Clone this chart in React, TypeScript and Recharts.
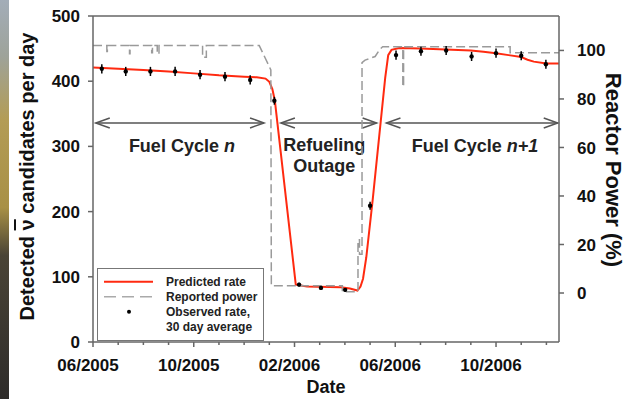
import React from "react";
import {
  ComposedChart,
  Line,
  Scatter,
  ErrorBar,
  XAxis,
  YAxis,
  ReferenceLine,
  Legend,
} from "recharts";

// months since 06/2005
const monthTicks = [0, 1, 2, 3, 4, 5, 6, 7, 8, 9, 10, 11, 12, 13, 14, 15, 16, 17, 18];
const majorTicks = [0, 4, 8, 12, 16];
const majorLabels = ["06/2005", "10/2005", "02/2006", "06/2006", "10/2006"];
const rateTicks = [0, 100, 200, 300, 400, 500];
const powerTicks = [0, 20, 40, 60, 80, 100];

const predMonth = [0, 1, 2, 3, 4, 5, 6, 6.5, 6.85, 7.0, 7.12, 7.22, 8.05, 8.5, 9.84, 10.2, 10.5, 10.62, 10.72, 10.85, 11.1, 11.6, 11.72, 11.85, 12.16, 13, 14, 15, 15.5, 16, 16.5, 17, 17.25, 17.5, 18, 18.5];
const predRate = [421, 419, 417, 415, 412, 409, 407, 406, 404, 399, 388, 370, 88, 85, 84, 82, 79, 85, 97, 130, 217, 405, 440, 448, 451, 450, 448.5, 447, 445, 443, 440, 437, 433, 430, 427, 427];

const powerMonth = [0, 0.55, 0.55, 0.57, 0.57, 1.45, 1.45, 1.47, 1.47, 2.33, 2.33, 2.36, 2.36, 2.55, 2.55, 2.62, 2.62, 4.35, 4.35, 4.5, 4.5, 6.6, 7.06, 7.08, 9.9, 9.9, 10.52, 10.52, 10.58, 10.58, 10.68, 10.68, 10.8, 11.2, 11.39, 11.5, 12.3, 12.3, 12.33, 12.33, 16.56, 16.56, 18.5];
const powerPct = [102, 102, 99.6, 99.6, 102, 102, 98.6, 98.6, 102, 102, 99, 99, 102, 102, 98.6, 98.6, 102, 102, 97.2, 97.2, 102, 102, 92, 3, 3, 0.5, 0.5, 22, 22, 16, 16, 95, 96, 97.5, 100.5, 101.5, 101.5, 85, 85, 101.5, 101.5, 99, 99];

const obsMonth = [0.35, 1.3, 2.28, 3.26, 4.25, 5.24, 6.24, 7.2, 8.18, 9.05, 10.01, 11.0, 12.03, 13.02, 14.02, 15.03, 16.0, 17.0, 17.98];
const obsRate = [419, 415, 415, 415, 410, 407, 402, 370, 88, 83, 80, 209, 440, 446, 447, 438, 443, 439, 426];
const obsErr = [7, 7, 7, 7, 7, 7, 7, 6, 3, 3, 3, 6, 7, 7, 7, 7, 7, 7, 7];

const spanStart = [0.11, 7.46, 11.65];
const spanEnd = [6.79, 11.26, 18.45];
const spanY = 336;

const predData = predMonth.map((m, i) => ({ m, v: predRate[i] }));
const powerData = powerMonth.map((m, i) => ({ m, p: powerPct[i] }));
const obsData = obsMonth.map((m, i) => ({ m, v: obsRate[i], err: obsErr[i] }));

const AXIS = "#666";
const FONT = "'Liberation Sans', Arial, sans-serif";

function DateTick(props: any) {
  const { x, y, payload } = props;
  const i = majorTicks.indexOf(payload.value);
  const major = i >= 0;
  return (
    <g>
      <line x1={x} y1={y} x2={x} y2={y + (major ? 5 : 3)} stroke={AXIS} strokeWidth={1.5} />
      {major && (
        <text x={x - 5} y={y + 29} textAnchor="middle" fontSize={17} fontWeight="bold" fill="#111">
          {majorLabels[i]}
        </text>
      )}
    </g>
  );
}

function spanLabel(i: number, cx: number, y: number) {
  const common = { textAnchor: "middle" as const, fontSize: 18, fontWeight: "bold", fill: "#222" };
  if (i === 0)
    return (
      <text x={cx + 2} y={y + 29} {...common}>
        Fuel Cycle <tspan fontStyle="italic">n</tspan>
      </text>
    );
  if (i === 1)
    return (
      <g>
        <text x={cx - 4.5} y={y + 28.5} {...common}>Refueling</text>
        <text x={cx - 4.5} y={y + 49.5} {...common}>Outage</text>
      </g>
    );
  return (
    <text x={cx + 3} y={y + 29} {...common}>
      Fuel Cycle <tspan fontStyle="italic">n+1</tspan>
    </text>
  );
}

function arrowShape(i: number) {
  return (props: any) => {
    const { x1, y1, x2 } = props;
    const c = "#555";
    return (
      <g>
        <line x1={x1} y1={y1} x2={x2} y2={y1} stroke={c} strokeWidth={1.5} />
        <polyline points={`${x1 + 14},${y1 - 5} ${x1},${y1} ${x1 + 14},${y1 + 5}`} fill="none" stroke={c} strokeWidth={1.5} />
        <polyline points={`${x2 - 14},${y1 - 5} ${x2},${y1} ${x2 - 14},${y1 + 5}`} fill="none" stroke={c} strokeWidth={1.5} />
        {spanLabel(i, (x1 + x2) / 2, y1)}
      </g>
    );
  };
}

function LegendBox() {
  const t = { fontSize: 12, fontWeight: "bold", fill: "#222" } as const;
  return (
    <svg width={165} height={71} style={{ display: "block", border: "1px solid #777", background: "#fff" }}>
      <line x1={6} y1={12.7} x2={55} y2={12.7} stroke="#ff2a10" strokeWidth={2} />
      <text x={68} y={17} {...t}>Predicted rate</text>
      <line x1={6} y1={27.7} x2={55} y2={27.7} stroke="#aaa" strokeWidth={1.5} strokeDasharray="12 6" />
      <text x={68} y={32} {...t}>Reported power</text>
      <circle cx={31} cy={42.7} r={2} fill="#000" />
      <text x={68} y={47} {...t}>Observed rate,</text>
      <text x={68} y={61.5} {...t}>30 day average</text>
    </svg>
  );
}

export default function App() {
  return (
    <div style={{ position: "absolute", left: 0, top: 0, width: 626, height: 399, background: "#fff", fontFamily: FONT, overflow: "hidden" }}>
      <div
        style={{
          position: "absolute",
          left: 0,
          top: 0,
          width: 9,
          height: 399,
          background: "linear-gradient(to bottom, #a3adb8 0%, #9ea39a 14%, #b39c55 30%, #a89045 52%, #4a4436 64%, #2e2c2a 100%)",
        }}
      />
      <ComposedChart width={626} height={399} margin={{ top: 16, right: 0, bottom: 0, left: 0 }}>
        <XAxis
          xAxisId="x"
          type="number"
          dataKey="m"
          domain={[0, 18.5]}
          ticks={monthTicks}
          interval={0}
          tick={<DateTick />}
          tickLine={false}
          tickSize={0}
          tickMargin={0}
          height={57}
          stroke={AXIS}
          strokeWidth={1.5}
          allowDataOverflow
          label={{
            content: (p: any) => (
              <text x={p.viewBox.x + p.viewBox.width / 2} y={p.viewBox.y + 51} textAnchor="middle" fontSize={18} fontWeight="bold" fill="#111">
                Date
              </text>
            ),
          }}
        />
        <YAxis
          yAxisId="left"
          domain={[0, 500]}
          ticks={rateTicks}
          width={93}
          stroke={AXIS}
          strokeWidth={1.5}
          tickSize={5}
          tickMargin={8}
          tick={{ fill: "#111", fontSize: 17, fontWeight: "bold" }}
          label={{
            content: (p: any) => {
              const x = p.viewBox.x + 27;
              const y = p.viewBox.y + p.viewBox.height / 2 - 2.5;
              return (
                <text x={x} y={y} transform={`rotate(-90 ${x} ${y})`} textAnchor="middle" dominantBaseline="central" fontSize={20} fontWeight="bold" fill="#111">
                  Detected <tspan style={{ textDecoration: "overline" }}>ν</tspan> candidates per day
                </text>
              );
            },
          }}
        />
        <YAxis
          yAxisId="right"
          orientation="right"
          domain={[-20.2, 114.2]}
          ticks={powerTicks}
          width={67}
          stroke={AXIS}
          strokeWidth={1.5}
          tickSize={5}
          tickMargin={13}
          allowDataOverflow
          tick={{ fill: "#111", fontSize: 17, fontWeight: "bold" }}
          label={{
            content: (p: any) => {
              const x = p.viewBox.x + 54;
              const y = p.viewBox.y + p.viewBox.height / 2 - 9;
              return (
                <text x={x} y={y} transform={`rotate(90 ${x} ${y})`} textAnchor="middle" dominantBaseline="central" fontSize={22} fontWeight="bold" fill="#111">
                  Reactor Power (%)
                </text>
              );
            },
          }}
        />
        <ReferenceLine xAxisId="x" yAxisId="left" y={500} stroke={AXIS} strokeWidth={1.5} />
        {spanStart.map((s, i) => (
          <ReferenceLine
            key={i}
            xAxisId="x"
            yAxisId="left"
            segment={[
              { x: s, y: spanY },
              { x: spanEnd[i], y: spanY },
            ]}
            shape={arrowShape(i)}
          />
        ))}
        <Line
          xAxisId="x"
          yAxisId="left"
          data={predData}
          dataKey="v"
          type="linear"
          stroke="#ff2a10"
          strokeWidth={2}
          dot={false}
          isAnimationActive={false}
        />
        <Line
          xAxisId="x"
          yAxisId="right"
          data={powerData}
          dataKey="p"
          type="linear"
          stroke="#9a9a9a"
          strokeWidth={1.5}
          strokeDasharray="9 4"
          dot={false}
          isAnimationActive={false}
        />
        <Scatter
          xAxisId="x"
          yAxisId="left"
          data={obsData}
          dataKey="v"
          fill="#000"
          shape={(p: any) => <circle cx={p.cx} cy={p.cy} r={2.2} fill="#000" />}
          isAnimationActive={false}
        >
          <ErrorBar dataKey="err" direction="y" width={0} stroke="#000" strokeWidth={1.5} />
        </Scatter>
        <Legend
          layout="vertical"
          align="center"
          verticalAlign="middle"
          content={() => <LegendBox />}
          wrapperStyle={{ left: 97, top: 268, width: 167, height: 73 }}
        />
      </ComposedChart>
    </div>
  );
}
